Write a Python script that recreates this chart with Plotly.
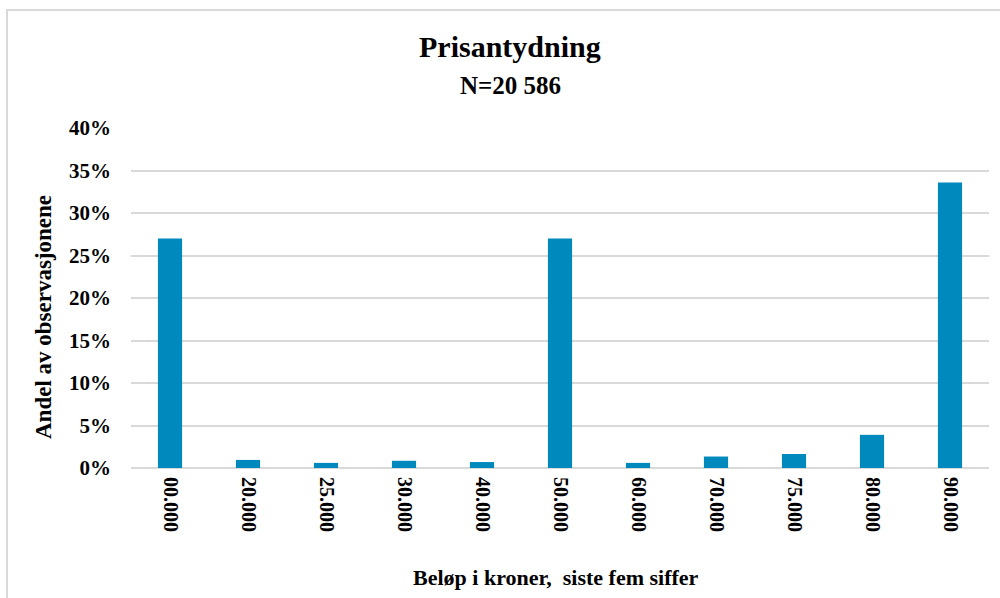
import plotly.graph_objects as go

categories = ["00.000", "20.000", "25.000", "30.000", "40.000", "50.000",
              "60.000", "70.000", "75.000", "80.000", "90.000"]
shares = [27.0, 0.95, 0.6, 0.85, 0.7, 27.0, 0.6, 1.35, 1.65, 3.9, 33.6]
y_ticks = [0, 5, 10, 15, 20, 25, 30, 35, 40]
y_tick_labels = ["0%", "5%", "10%", "15%", "20%", "25%", "30%", "35%", "40%"]

title_text = "Prisantydning"
subtitle_text = "N=20 586"
x_title = "Beløp i kroner,  siste fem siffer"
y_title = "Andel av observasjonene"

FONT = "Liberation Serif"
BAR = "#0089BD"
GRID = "#D9D9D9"

fig = go.Figure(go.Bar(x=categories, y=shares, marker=dict(color=BAR, line=dict(width=0)),
                       hoverinfo="x+y"))

W, H = 1000, 598
L, R, T, B = 131, 989, 128, 468


def px(x):
    return (x - L) / (R - L)


def py(y):
    return (B - y) / (B - T)


fig.update_layout(
    width=W, height=H,
    margin=dict(l=L, r=W - R, t=T, b=H - B),
    paper_bgcolor="white", plot_bgcolor="white",
    bargap=0.69,
    showlegend=False,
    font=dict(family=FONT, color="black"),
    xaxis=dict(
        type="category", tickangle=90, showgrid=False, showline=False, zeroline=False,
        tickfont=dict(family=FONT, size=20, weight="bold"), ticks="",
        ticklabelstandoff=8,
    ),
    yaxis=dict(
        range=[0, 40], tickmode="array", tickvals=y_ticks, ticktext=y_tick_labels,
        showgrid=True,
        gridcolor=GRID, gridwidth=1.5, zeroline=True, zerolinecolor=GRID, zerolinewidth=1.5,
        tickfont=dict(family=FONT, size=21, weight="bold"), ticks="",
        ticklabelstandoff=19, fixedrange=True,
    ),
    annotations=[
        dict(text=title_text, xref="paper", yref="paper", x=px(510), y=py(47),
             xanchor="center", yanchor="middle", showarrow=False,
             font=dict(family=FONT, size=30, weight="bold")),
        dict(text=subtitle_text, xref="paper", yref="paper", x=px(510), y=py(85),
             xanchor="center", yanchor="middle", showarrow=False,
             font=dict(family=FONT, size=25, weight="bold")),
        dict(text=x_title, xref="paper", yref="paper", x=px(556), y=py(577),
             xanchor="center", yanchor="middle", showarrow=False,
             font=dict(family=FONT, size=22, weight="bold")),
        dict(text=y_title, xref="paper", yref="paper", x=px(43), y=py(317),
             xanchor="center", yanchor="middle", showarrow=False, textangle=-90,
             font=dict(family=FONT, size=23, weight="bold")),
    ],
    shapes=[
        dict(type="rect", xref="paper", yref="paper", x0=px(7), x1=px(1012),
             y0=py(612), y1=py(10), line=dict(color=GRID, width=2), layer="below"),
    ],
)

fig.write_html("out.html")
